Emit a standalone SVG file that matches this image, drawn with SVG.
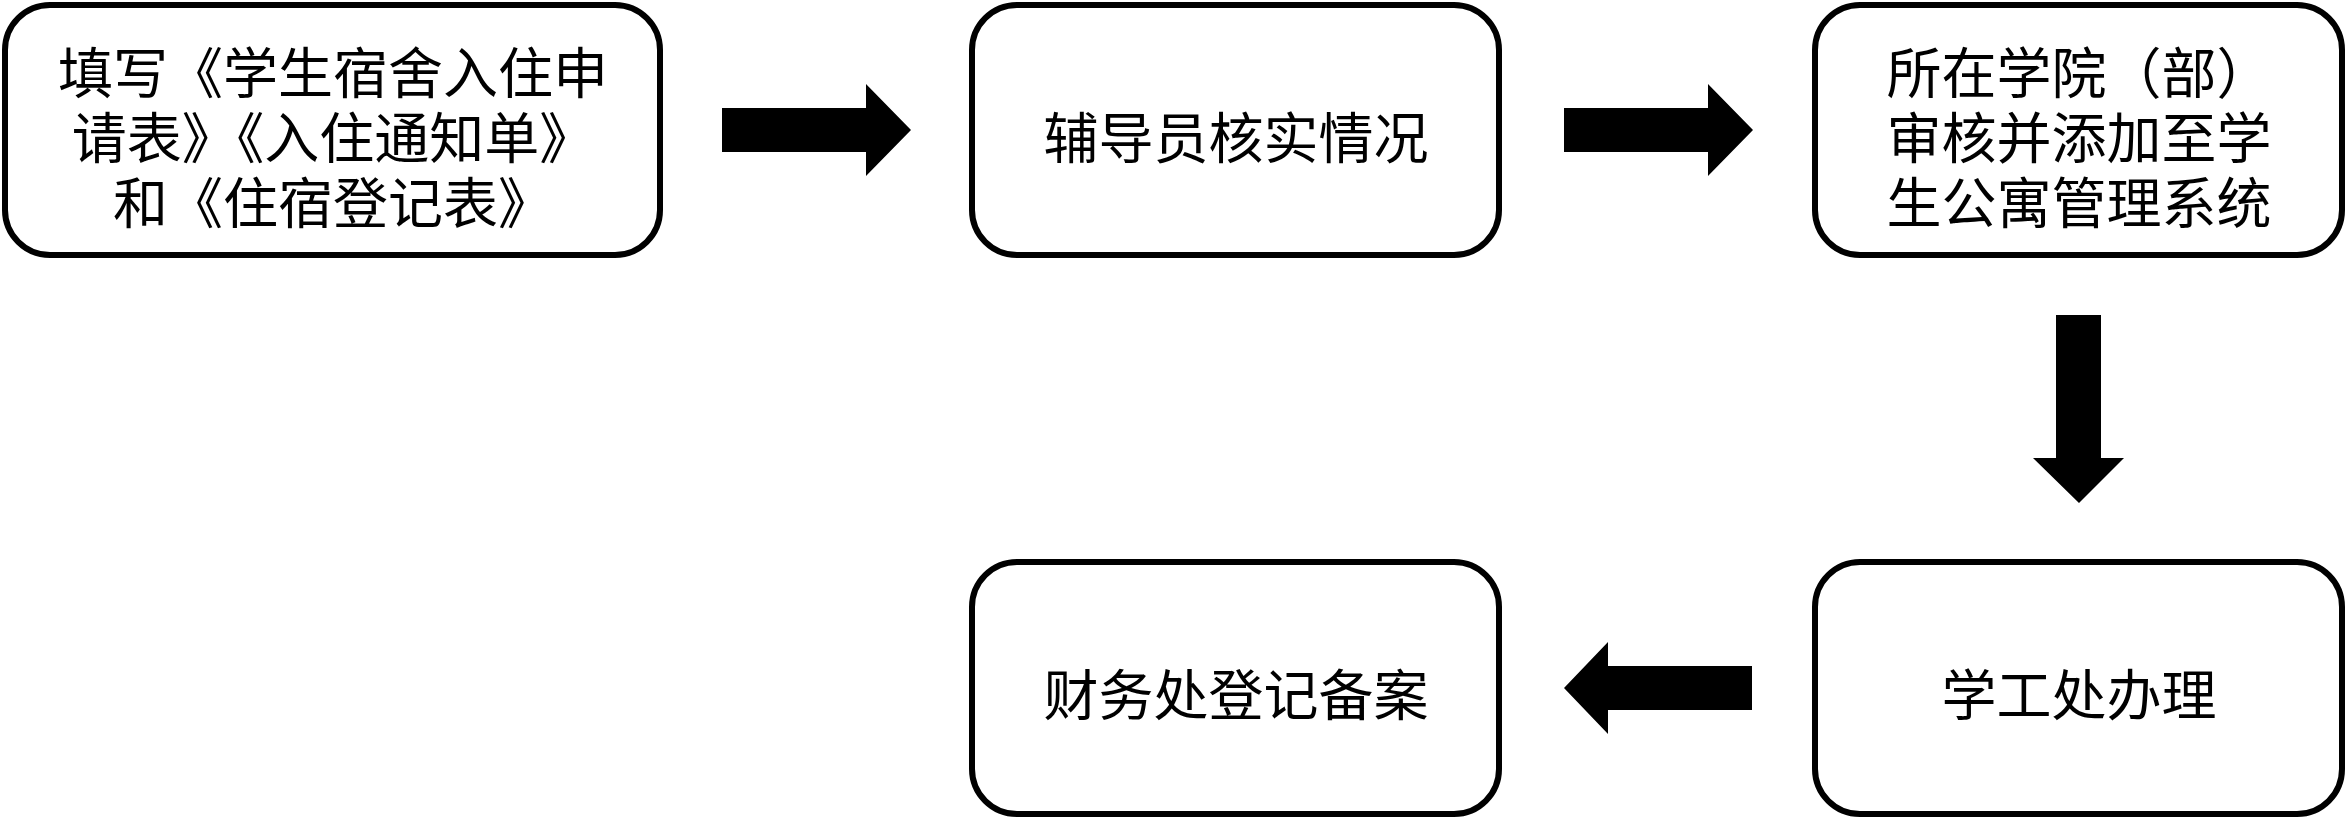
<svg xmlns="http://www.w3.org/2000/svg" width="2347" height="817" viewBox="0 0 2347 817">
<style>
.box{fill:#fff;stroke:#000;stroke-width:6}
.t{font-family:"Noto Sans CJK SC","Liberation Sans",sans-serif;font-size:55px;fill:#000;text-anchor:middle;dominant-baseline:central}
.arr{fill:#000}
</style>
<rect width="2347" height="817" fill="#fff"/>
<g id="n1"><rect class="box" x="5" y="5" width="655" height="250" rx="45"/>
<text class="t"><tspan x="333" y="69">填写《学生宿舍入住申</tspan><tspan x="333" y="134">请表》《入住通知单》</tspan><tspan x="333" y="199">和《住宿登记表》</tspan></text></g>
<g id="n2"><rect class="box" x="972" y="5" width="527" height="250" rx="45"/>
<text class="t" x="1236" y="134">辅导员核实情况</text></g>
<g id="n3"><rect class="box" x="1815" y="5" width="527" height="250" rx="45"/>
<text class="t"><tspan x="2079" y="69">所在学院（部）</tspan><tspan x="2079" y="134">审核并添加至学</tspan><tspan x="2079" y="199">生公寓管理系统</tspan></text></g>
<g id="n4"><rect class="box" x="1815" y="562" width="527" height="252" rx="45"/>
<text class="t" x="2079" y="691">学工处办理</text></g>
<g id="n5"><rect class="box" x="972" y="562" width="527" height="252" rx="45"/>
<text class="t" x="1236" y="691">财务处登记备案</text></g>
<g id="connectors">
<polygon class="arr" points="722,108 866,108 866,84 911,130 866,176 866,152 722,152"/>
<polygon class="arr" points="1564,108 1708,108 1708,84 1753,130 1708,176 1708,152 1564,152"/>
<polygon class="arr" points="2056,315 2101,315 2101,458 2124,458 2079,503 2033,458 2056,458"/>
<polygon class="arr" points="1752,666 1608,666 1608,642 1564,688 1608,734 1608,710 1752,710"/>
</g>
</svg>
